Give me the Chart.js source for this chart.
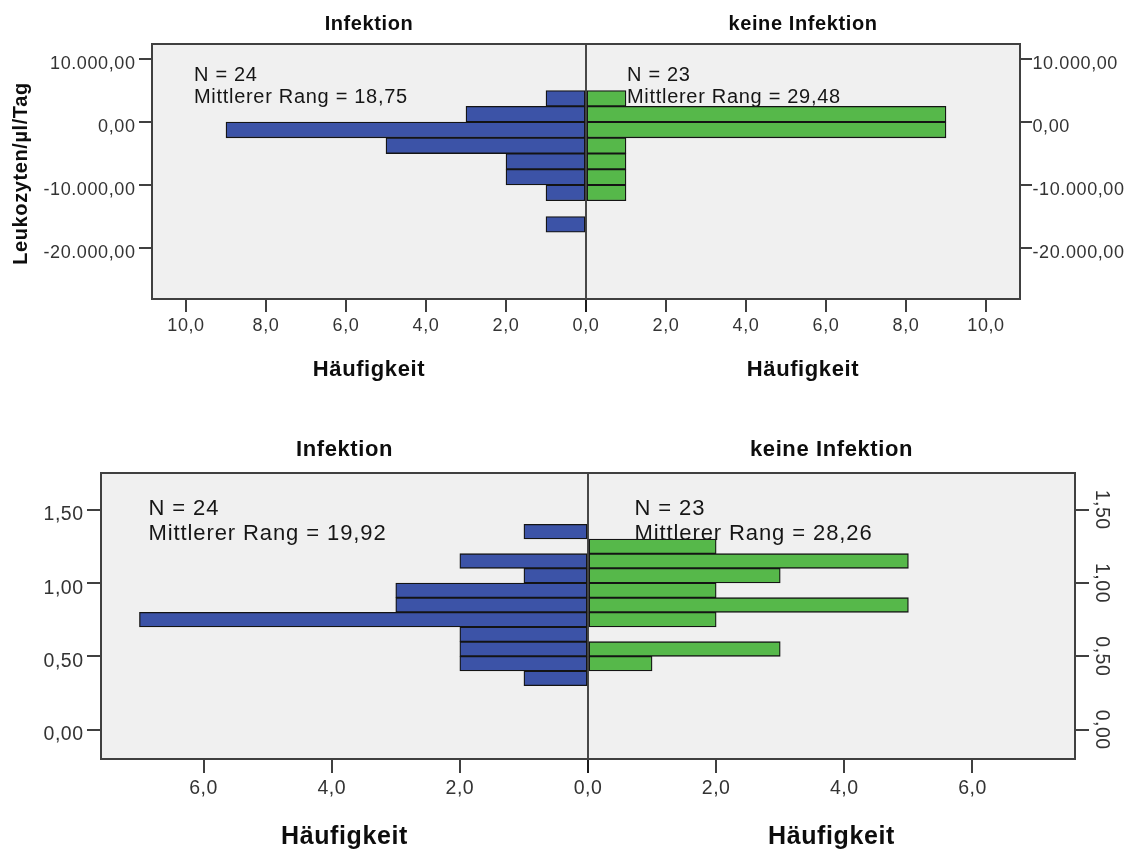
<!DOCTYPE html>
<html lang="de">
<head>
<meta charset="utf-8">
<title>Häufigkeitsverteilung nach Gruppe</title>
<script src="https://cdn.jsdelivr.net/npm/chart.js@4.4.1/dist/chart.umd.min.js"></script>
<style>
  html, body { margin: 0; padding: 0; background: #ffffff; }
  #wrap { position: relative; width: 1131px; height: 852px; overflow: hidden; }
  canvas { position: absolute; left: 0; }
  #leuko { top: 0; }
  #ratio { top: 400px; }
</style>
</head>
<body>
<div id="wrap">
  <canvas id="leuko" width="1131" height="400"></canvas>
  <canvas id="ratio" width="1131" height="452"></canvas>
</div>
<script>
// ---- Leukozyten/µl/Tag: Klassenmitten und Häufigkeiten ----
const leukoBins = [3750, 1250, -1250, -3750, -6250, -8750, -11250, -13750, -16250];
const leukoInfektion = [1, 3, 9, 5, 2, 2, 1, 0, 1];
const leukoKeineInfektion = [1, 9, 9, 1, 1, 1, 1, 0, 0];
const leukoYTicks = [10000, 0, -10000, -20000];
const leukoXTicks = [-10, -8, -6, -4, -2, 0, 2, 4, 6, 8, 10];

// ---- zweite Variable: Klassenmitten und Häufigkeiten ----
const ratioBins = [1.35, 1.25, 1.15, 1.05, 0.95, 0.85, 0.75, 0.65, 0.55, 0.45, 0.35];
const ratioInfektion = [1, 0, 2, 1, 3, 3, 7, 2, 2, 2, 1];
const ratioKeineInfektion = [0, 2, 5, 3, 2, 5, 2, 0, 3, 1, 0];
const ratioYTicks = [1.5, 1.0, 0.5, 0.0];
const ratioXTicks = [-6, -4, -2, 0, 2, 4, 6];

// ---- Beschriftungen ----
const groupLabels = ['Infektion', 'keine Infektion'];
const leukoStats = [['N = 24', 'Mittlerer Rang = 18,75'], ['N = 23', 'Mittlerer Rang = 29,48']];
const ratioStats = [['N = 24', 'Mittlerer Rang = 19,92'], ['N = 23', 'Mittlerer Rang = 28,26']];
const xTitle = 'Häufigkeit';
const leukoYTitle = 'Leukozyten/µl/Tag';

const BLUE = '#3c53a7';
const GREEN = '#56b84a';
const FONT = "'Liberation Sans', Arial, Helvetica, sans-serif";

// German number format: thousands '.', decimals ','
function deNum(v, digits) {
  const neg = v < -1e-9;
  const parts = Math.abs(v).toFixed(digits).split('.');
  const int = parts[0].replace(/\B(?=(\d{3})+(?!\d))/g, '.');
  return (neg ? '-' : '') + int + (parts[1] ? ',' + parts[1] : '');
}

function drawText(ctx, s, x, y, font, color, align, spacing, rot) {
  ctx.save();
  ctx.font = font;
  ctx.fillStyle = color;
  ctx.textAlign = align;
  ctx.textBaseline = 'alphabetic';
  ctx.letterSpacing = spacing;
  ctx.translate(x, y);
  if (rot) ctx.rotate(rot);
  ctx.fillText(s, 0, 0);
  ctx.restore();
}

function panelPlugin(p) {
  return {
    id: 'panel',
    beforeDraw(chart) {
      const { ctx, chartArea: a } = chart;
      ctx.save();
      ctx.fillStyle = '#f0f0f0';
      ctx.fillRect(a.left, a.top, a.right - a.left, a.bottom - a.top);
      ctx.restore();
      ctx.letterSpacing = p.tickSpacing;
    },
    afterDatasetsDraw(chart) {
      const { ctx, chartArea: a, scales } = chart;
      const x0 = scales.x.getPixelForValue(0);
      ctx.save();
      ctx.letterSpacing = '0px';
      ctx.strokeStyle = '#111111';
      ctx.lineWidth = 1.5;
      ctx.beginPath();
      ctx.moveTo(x0, a.top);
      ctx.lineTo(x0, a.bottom + p.tickLen);
      ctx.stroke();
      ctx.strokeStyle = '#404040';
      ctx.lineWidth = 2;
      ctx.strokeRect(a.left, a.top, a.right - a.left, a.bottom - a.top);
      ctx.restore();
    },
    afterDraw(chart) {
      const { ctx, chartArea: a, scales } = chart;
      const x0 = scales.x.getPixelForValue(0);
      const tickFont = p.tickSize + 'px ' + FONT;
      const tickColor = '#333333';

      // y tick labels, left side
      for (const t of scales.y.ticks) {
        const py = scales.y.getPixelForValue(t.value);
        drawText(ctx, p.yFmt(t.value), a.left - p.yLabelGap, py + p.yLabelDy,
                 tickFont, tickColor, 'right', p.tickSpacing, 0);
      }
      // y tick labels, right side
      for (const t of scales.y2.ticks) {
        const py = scales.y2.getPixelForValue(t.value);
        if (p.rightRotated) {
          drawText(ctx, p.yFmt(t.value), a.right + p.y2LabelGap, py,
                   tickFont, tickColor, 'center', p.tickSpacing, Math.PI / 2);
        } else {
          drawText(ctx, p.yFmt(t.value), a.right + p.y2LabelGap, py + p.yLabelDy,
                   tickFont, tickColor, 'left', p.tickSpacing, 0);
        }
      }

      // group titles above each half
      const titleFont = 'bold ' + p.titleSize + 'px ' + FONT;
      const cxL = (a.left + x0) / 2;
      const cxR = (x0 + a.right) / 2;
      drawText(ctx, groupLabels[0], cxL, p.titleY, titleFont, '#0d0d0d', 'center', p.titleSpacing, 0);
      drawText(ctx, groupLabels[1], cxR, p.titleY, titleFont, '#0d0d0d', 'center', p.titleSpacing, 0);

      // axis titles below each half
      const axFont = 'bold ' + p.axisTitleSize + 'px ' + FONT;
      drawText(ctx, xTitle, cxL, p.axisTitleY, axFont, '#0d0d0d', 'center', p.titleSpacing, 0);
      drawText(ctx, xTitle, cxR, p.axisTitleY, axFont, '#0d0d0d', 'center', p.titleSpacing, 0);

      // N and mean rank
      const stFont = p.statSize + 'px ' + FONT;
      p.stats[0].forEach((s, i) => drawText(ctx, s, a.left + p.statDxL, p.statY[i], stFont, '#161616', 'left', p.statSpacing, 0));
      p.stats[1].forEach((s, i) => drawText(ctx, s, x0 + p.statDxR, p.statY[i], stFont, '#161616', 'left', p.statSpacing, 0));

      // vertical variable name
      if (p.yTitle) {
        drawText(ctx, p.yTitle, p.yTitleX, (a.top + a.bottom) / 2 + 2,
                 'bold ' + p.yTitleSize + 'px ' + FONT, '#0d0d0d', 'center', p.titleSpacing, -Math.PI / 2);
      }
    }
  };
}

function buildPyramid(canvasId, p) {
  const el = document.getElementById(canvasId);
  const W = el.width;
  const H = el.height;
  const tickGrid = (len) => ({
    display: true, drawOnChartArea: false, drawTicks: true, offset: false,
    tickLength: len, color: '#404040', lineWidth: 2
  });
  const barStyle = {
    borderColor: '#141414', borderWidth: 1.3, borderSkipped: false,
    barPercentage: 1, categoryPercentage: 1, stack: 'gruppen'
  };
  return new Chart(el, {
    type: 'bar',
    data: {
      datasets: [
        Object.assign({
          label: groupLabels[0],
          data: p.bins.map((b, i) => ({ y: b, x: p.left[i] ? -p.left[i] : null })),
          backgroundColor: BLUE
        }, barStyle),
        Object.assign({
          label: groupLabels[1],
          data: p.bins.map((b, i) => ({ y: b, x: p.right[i] ? p.right[i] : null })),
          backgroundColor: GREEN
        }, barStyle)
      ]
    },
    options: {
      indexAxis: 'y',
      responsive: false,
      animation: false,
      events: [],
      layout: { padding: { top: p.area.top, left: 0, right: 0, bottom: 0 } },
      plugins: { legend: { display: false }, tooltip: { enabled: false }, title: { display: false } },
      scales: {
        x: {
          type: 'linear', min: -p.xMax, max: p.xMax, stacked: true, offset: false,
          afterBuildTicks: (s) => { s.ticks = p.xTicks.map((v) => ({ value: v })); },
          afterFit: (s) => { s.height = H - p.area.bottom; },
          grid: tickGrid(p.tickLen),
          border: { display: false },
          ticks: {
            autoSkip: false, maxRotation: 0, minRotation: 0, padding: p.xPad,
            color: '#333333', font: { family: FONT, size: p.tickSize },
            callback: (v) => deNum(Math.abs(v), 1)
          }
        },
        y: {
          type: 'linear', position: 'left', min: p.yMin, max: p.yMax, offset: false,
          afterBuildTicks: (s) => { s.ticks = p.yTicks.map((v) => ({ value: v })); },
          afterFit: (s) => { s.width = p.area.left; },
          grid: tickGrid(p.yTickLen),
          border: { display: false },
          ticks: { display: false }
        },
        y2: {
          type: 'linear', position: 'right', min: p.yMin, max: p.yMax, offset: false,
          afterBuildTicks: (s) => { s.ticks = p.yTicks.map((v) => ({ value: v })); },
          afterFit: (s) => { s.width = W - p.area.right; },
          grid: tickGrid(p.y2TickLen),
          border: { display: false },
          ticks: { display: false }
        }
      }
    },
    plugins: [panelPlugin(p)]
  });
}

buildPyramid('leuko', {
  bins: leukoBins, left: leukoInfektion, right: leukoKeineInfektion,
  xTicks: leukoXTicks, yTicks: leukoYTicks, xMax: 10.85, yMin: -28100, yMax: 12400,
  area: { top: 44, bottom: 299, left: 152, right: 1020 },
  tickLen: 13, yTickLen: 13, y2TickLen: 12, xPad: 3,
  tickSize: 18, tickSpacing: '0.6px',
  yFmt: (v) => deNum(v, 2), yLabelGap: 16.5, y2LabelGap: 12.5, yLabelDy: 9.7, rightRotated: false,
  titleSize: 20, titleY: 30, axisTitleSize: 22, axisTitleY: 376, titleSpacing: '0.6px',
  stats: leukoStats, statSize: 20, statSpacing: '0.7px', statDxL: 42, statDxR: 41, statY: [81, 103],
  yTitle: leukoYTitle, yTitleX: 27, yTitleSize: 20
});

buildPyramid('ratio', {
  bins: ratioBins, left: ratioInfektion, right: ratioKeineInfektion,
  xTicks: ratioXTicks, yTicks: ratioYTicks, xMax: 7.6, yMin: -0.2, yMax: 1.75,
  area: { top: 73, bottom: 359, left: 101, right: 1075 },
  tickLen: 14, yTickLen: 14, y2TickLen: 14, xPad: 4,
  tickSize: 19.5, tickSpacing: '0.5px',
  yFmt: (v) => deNum(v, 2), yLabelGap: 17.5, y2LabelGap: 21, yLabelDy: 10.5, rightRotated: true,
  titleSize: 22, titleY: 56, axisTitleSize: 25, axisTitleY: 444, titleSpacing: '0.6px',
  stats: ratioStats, statSize: 22, statSpacing: '0.9px', statDxL: 47.5, statDxR: 46.5, statY: [114.5, 139.5],
  yTitle: null
});
</script>
</body>
</html>
